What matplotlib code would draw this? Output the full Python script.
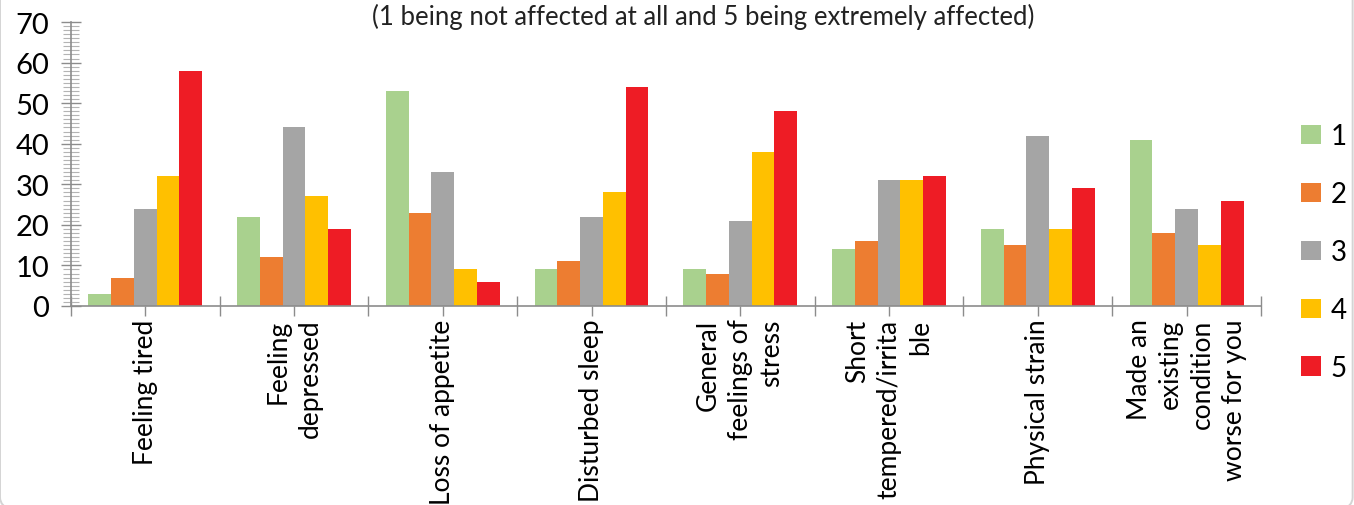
import numpy as np
import matplotlib
matplotlib.use("Agg")
import matplotlib.pyplot as plt
from matplotlib.ticker import MultipleLocator, FixedLocator
from matplotlib.patches import FancyBboxPatch, Patch

plt.rcParams['font.family'] = ['Lato', 'DejaVu Sans']

# data
categories = ['Feeling tired', 'Feeling\ndepressed', 'Loss of appetite', 'Disturbed sleep',
              'General\nfeelings of\nstress', 'Short\ntempered/irrita\nble', 'Physical strain',
              'Made an\nexisting\ncondition\nworse for you']
series_names = ['1', '2', '3', '4', '5']
score_1 = [3, 22, 53, 9, 9, 14, 19, 41]
score_2 = [7, 12, 23, 11, 8, 16, 15, 18]
score_3 = [24, 44, 33, 22, 21, 31, 42, 24]
score_4 = [32, 27, 9, 28, 38, 31, 19, 15]
score_5 = [58, 19, 6, 54, 48, 32, 29, 26]
colors = ['#a9d18e', '#ed7d31', '#a5a5a5', '#ffc000', '#ee1c25']
title = '(1 being not affected at all and 5 being extremely affected)'

series = [score_1, score_2, score_3, score_4, score_5]

fig = plt.figure(figsize=(13.54, 5.06), dpi=100)
ax = fig.add_axes([0.0524, 0.3933, 0.8789, 0.5612])

x = np.arange(len(categories))
w = 0.153
for i, (vals, c) in enumerate(zip(series, colors)):
    ax.bar(x + (i - 2) * w, vals, width=w, color=c, edgecolor='none', zorder=2)

ax.set_xlim(-0.5, len(categories) - 0.5)
ax.set_ylim(0, 70)

axis_col = '#8c8c8c'
for s in ['top', 'right']:
    ax.spines[s].set_visible(False)
for s in ['left', 'bottom']:
    ax.spines[s].set_color(axis_col)
    ax.spines[s].set_linewidth(1.2)

# y axis: labelled every 10, small ticks every 1
ax.yaxis.set_major_locator(MultipleLocator(10))
ax.yaxis.set_minor_locator(MultipleLocator(1))
ax.tick_params(axis='y', which='major', direction='inout', length=15, width=1.0,
               color=axis_col, labelsize=21, pad=8)
ax.tick_params(axis='y', which='minor', direction='inout', length=12, width=0.8, color='#b4b4b4')

# x axis: long ticks between groups, short ticks under each group
ax.xaxis.set_major_locator(FixedLocator(np.arange(-0.5, len(categories), 1.0)))
ax.xaxis.set_major_formatter(plt.NullFormatter())
ax.set_xticks(x, categories, minor=True)
ax.tick_params(axis='x', which='major', direction='inout', length=14, width=1.0, color=axis_col)
ax.tick_params(axis='x', which='minor', direction='out', length=7, width=1.0, color=axis_col,
               labelsize=19, pad=2)
for lbl in ax.get_xticklabels(minor=True):
    lbl.set_rotation(90)
    lbl.set_va('top')
    lbl.set_ha('center')
    lbl.set_multialignment('right')
    lbl.set_linespacing(1.33)

handles = [Patch(facecolor=c, edgecolor='none') for c in colors]
fig.legend(handles, series_names, loc='center left', bbox_to_anchor=(0.961, 0.50),
           frameon=False, fontsize=20, handlelength=0.7, handleheight=0.7,
           handletextpad=0.35, labelspacing=1.15, borderpad=0, borderaxespad=0)

fig.text(0.519, 0.966, title, ha='center', va='center', fontsize=18.5, color='#222222')

# faint rounded outline of the chart box, mostly off the picture
fig.patches.append(FancyBboxPatch((0.0, -0.02), 0.999, 1.2, boxstyle='round,pad=0,rounding_size=0.035',
                                  transform=fig.transFigure, facecolor='none',
                                  edgecolor='#d4d4d4', linewidth=1.4, zorder=0))

fig.savefig('out.png', dpi=100)
